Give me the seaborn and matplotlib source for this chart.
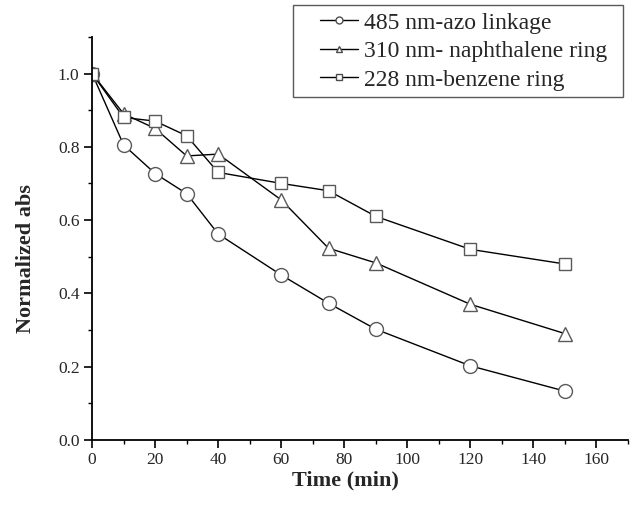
import seaborn as sns
import pandas as pd
import numpy as np
import matplotlib.pyplot as plt
from matplotlib.patches import Rectangle
from matplotlib.ticker import MultipleLocator

sns.set_style("ticks")
plt.rcParams['font.family'] = ['Liberation Serif', 'DejaVu Serif']

time = [0, 10, 20, 30, 40, 60, 75, 90, 120, 150]
azo = [1.0, 0.805, 0.727, 0.672, 0.562, 0.45, 0.373, 0.302, 0.202, 0.133]
naph = [1.0, 0.89, 0.85, 0.775, 0.78, 0.655, 0.523, 0.483, 0.37, 0.29]
benz = [1.0, 0.88, 0.87, 0.83, 0.73, 0.70, 0.68, 0.61, 0.52, 0.48]

labels = ["485 nm-azo linkage", "310 nm- naphthalene ring", "228 nm-benzene ring"]
marks = ["o", "^", "s"]

W, H = 635, 505
fig = plt.figure(figsize=(6.35, 5.05), dpi=100)
ax = fig.add_axes([0.145, 0.129, 0.844, 0.798])

for vals, lab, m in zip([azo, naph, benz], labels, marks):
    df = pd.DataFrame({"time": time, "abs": vals})
    sns.lineplot(data=df, x="time", y="abs", ax=ax, color="black", lw=1.0,
                 marker=m, markersize=10 if m != "s" else 9,
                 markerfacecolor="white", markeredgecolor="0.35",
                 markeredgewidth=1.0, label=lab, legend=False)

ax.set_xlim(0, 170)
ax.set_ylim(0, 1.1)
ax.xaxis.set_minor_locator(MultipleLocator(10))
ax.yaxis.set_minor_locator(MultipleLocator(0.1))
ax.set_xticks(np.arange(0, 161, 20))
ax.set_yticks(np.arange(0, 1.01, 0.2))
ax.tick_params(which="major", length=6, width=1.2, labelsize=12.5, color="black", pad=3)
ax.tick_params(which="minor", length=3, width=1.0, color="black")
for s in ["top", "right"]:
    ax.spines[s].set_visible(False)
for s in ["left", "bottom"]:
    ax.spines[s].set_linewidth(1.3)
    ax.spines[s].set_color("black")

ax.set_xlabel("Time (min)", fontsize=16, fontweight="bold")
ax.set_ylabel("Normalized abs", fontsize=16, fontweight="bold")
ax.xaxis.set_label_coords((345 - 92) / 536, -0.075)
ax.yaxis.set_label_coords(-0.105, 0.45)

# legend: entries without frame, box drawn separately
handles, labs = ax.get_legend_handles_labels()
leg = fig.legend(handles, labs, loc="upper left",
                 bbox_to_anchor=(320 / W, 1 - 12 / H), fontsize=17,
                 frameon=False, handlelength=1.6, handletextpad=0.25,
                 labelspacing=0.3, borderpad=0, borderaxespad=0)
for h in leg.legend_handles:
    h.set_markersize(5)
    h.set_markeredgecolor("0.3")
fig.patches.append(Rectangle((293 / W, 1 - 97 / H), 330 / W, 92 / H,
                             transform=fig.transFigure, fill=False,
                             edgecolor="0.35", lw=1.0))

fig.savefig("out.png", dpi=100)
